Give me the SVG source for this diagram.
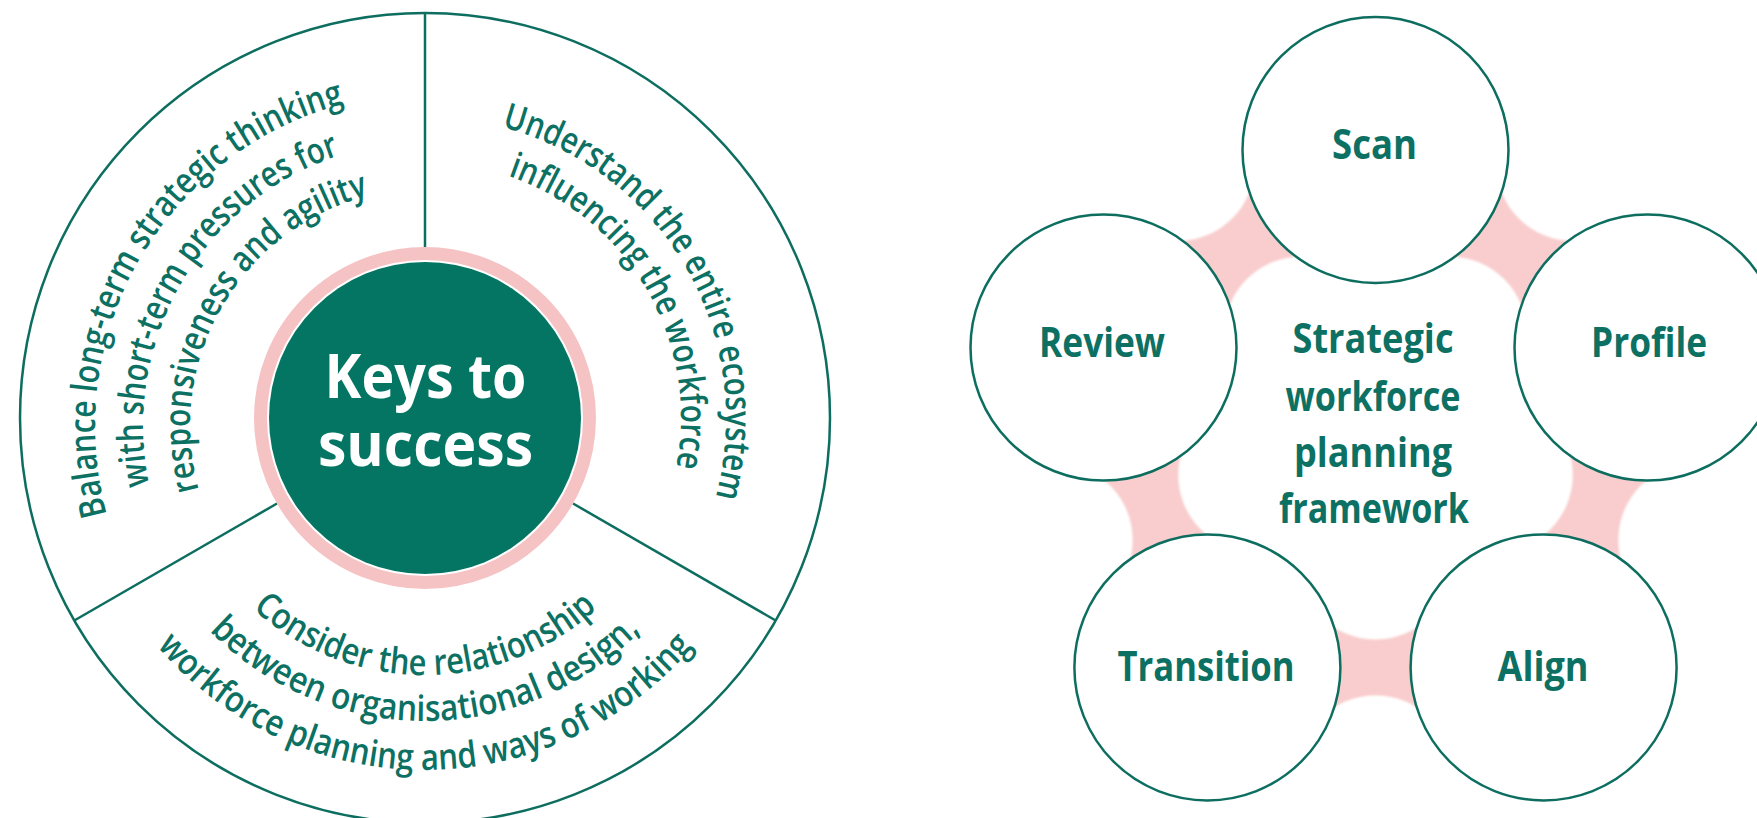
<svg xmlns="http://www.w3.org/2000/svg" width="1757" height="818" viewBox="0 0 1757 818">
  <style>
    .outline { fill: none; stroke: #0d6e60; stroke-width: 2.5; }
    .arc-text { font-family: "Open Sans", "Liberation Sans", sans-serif; font-weight: 600; font-size: 36px; fill: #0c7163; }
    .keys-text { font-family: "Open Sans", "Liberation Sans", sans-serif; font-weight: 700; font-size: 61px; fill: #ffffff; text-anchor: middle; }
    .node-circle { fill: #ffffff; stroke: #0d6e60; stroke-width: 2.5; }
    .label { font-family: "Open Sans", "Liberation Sans", sans-serif; font-weight: 700; font-size: 41px; fill: #0c7163; text-anchor: middle; }
    .bridge { fill: none; stroke: #f9cdcd; stroke-width: 80; stroke-linejoin: round; }
    .carve { fill: #ffffff; }
  </style>
  <defs>
    <!-- baselines for the curved captions (left sector, clockwise) -->
    <path id="arcL1" d="M139.6,592.5 A333,333 0 0 1 428,93"/>
    <path id="arcL2" d="M181.2,568.5 A285,285 0 0 1 428,141"/>
    <path id="arcL3" d="M221.9,545 A238,238 0 0 1 428,188"/>
    <!-- right sector, clockwise -->
    <path id="arcR1" d="M425,117 A301,301 0 0 1 685.7,568.5"/>
    <path id="arcR2" d="M425,162 A256,256 0 0 1 646.7,546"/>
    <!-- bottom sector, counter-clockwise so glyphs face the centre -->
    <path id="arcB1" d="M202.4,546.5 A257,257 0 0 0 647.6,546.5"/>
    <path id="arcB2" d="M162.6,569.5 A303,303 0 0 0 687.4,569.5"/>
    <path id="arcB3" d="M120.2,594 A352,352 0 0 0 729.8,594"/>
    <filter id="soft" x="-5%" y="-5%" width="110%" height="110%">
      <feGaussianBlur stdDeviation="1"/>
    </filter>
  </defs>

  <rect width="1757" height="818" fill="#ffffff"/>

  <!-- ===== Keys to success wheel ===== -->
  <g id="wheel">
    <circle class="outline" cx="425" cy="418" r="405"/>
    <g id="dividers">
      <line class="outline" x1="425" y1="13" x2="425" y2="247"/>
      <line class="outline" x1="74.3" y1="620.5" x2="277" y2="503.5"/>
      <line class="outline" x1="775.7" y1="620.5" x2="573" y2="503.5"/>
    </g>
  </g>

  <g id="keys-hub">
    <circle cx="425" cy="418" r="164.5" fill="none" stroke="#f5c3c4" stroke-width="13"/>
    <circle cx="425" cy="418" r="156" fill="#037562"/>
    <text class="keys-text" x="425.5" y="398" textLength="202" lengthAdjust="spacingAndGlyphs">Keys to</text>
    <text class="keys-text" x="425.5" y="466" textLength="215" lengthAdjust="spacingAndGlyphs">success</text>
  </g>

  <g id="sector-balance">
    <text class="arc-text" text-anchor="middle"><textPath href="#arcL1" startOffset="50%" textLength="528" lengthAdjust="spacingAndGlyphs">Balance long-term strategic thinking</textPath></text>
    <text class="arc-text" text-anchor="middle"><textPath href="#arcL2" startOffset="50%" textLength="417" lengthAdjust="spacingAndGlyphs">with short-term pressures for</textPath></text>
    <text class="arc-text" text-anchor="middle"><textPath href="#arcL3" startOffset="50%" textLength="378" lengthAdjust="spacingAndGlyphs">responsiveness and agility</textPath></text>
  </g>

  <g id="sector-ecosystem">
    <text class="arc-text" text-anchor="middle"><textPath href="#arcR1" startOffset="50%" textLength="475" lengthAdjust="spacingAndGlyphs">Understand the entire ecosystem</textPath></text>
    <text class="arc-text" text-anchor="middle"><textPath href="#arcR2" startOffset="50%" textLength="367" lengthAdjust="spacingAndGlyphs">influencing the workforce</textPath></text>
  </g>

  <g id="sector-relationship">
    <text class="arc-text" text-anchor="middle"><textPath href="#arcB1" startOffset="50%" textLength="378" lengthAdjust="spacingAndGlyphs">Consider the relationship</textPath></text>
    <text class="arc-text" text-anchor="middle"><textPath href="#arcB2" startOffset="50%" textLength="480" lengthAdjust="spacingAndGlyphs">between organisational design,</textPath></text>
    <text class="arc-text" text-anchor="middle"><textPath href="#arcB3" startOffset="50%" textLength="609" lengthAdjust="spacingAndGlyphs">workforce planning and ways of working</textPath></text>
  </g>

  <!-- ===== Strategic workforce planning framework ===== -->
  <g id="connectors" filter="url(#soft)">
    <path class="bridge" d="M1375.5,150 L1647.5,347.6 L1543.6,667.4 L1207.4,667.4 L1103.5,347.6 Z"/>
    <!-- concave waists between neighbouring stages -->
    <circle class="carve" cx="1573.3" cy="163.8" r="77.1"/>
    <circle class="carve" cx="1449.7" cy="333.8" r="77.1"/>
    <circle class="carve" cx="1695.5" cy="540" r="77.1"/>
    <circle class="carve" cx="1495.6" cy="475" r="77.1"/>
    <circle class="carve" cx="1375.5" cy="772.5" r="77.1"/>
    <circle class="carve" cx="1375.5" cy="562.3" r="77.1"/>
    <circle class="carve" cx="1055.5" cy="540" r="77.1"/>
    <circle class="carve" cx="1255.4" cy="475" r="77.1"/>
    <circle class="carve" cx="1177.7" cy="163.8" r="77.1"/>
    <circle class="carve" cx="1301.3" cy="333.8" r="77.1"/>
  </g>

  <g id="framework-title">
    <text class="label" x="1373" y="353" textLength="161" lengthAdjust="spacingAndGlyphs">Strategic</text>
    <text class="label" x="1373" y="410.5" textLength="175" lengthAdjust="spacingAndGlyphs">workforce</text>
    <text class="label" x="1373" y="466.5" textLength="158" lengthAdjust="spacingAndGlyphs">planning</text>
    <text class="label" x="1374" y="522.5" textLength="190" lengthAdjust="spacingAndGlyphs">framework</text>
  </g>

  <g id="stage-scan">
    <circle class="node-circle" cx="1375.5" cy="150" r="133"/>
    <text class="label" x="1374.5" y="159" textLength="85" lengthAdjust="spacingAndGlyphs">Scan</text>
  </g>
  <g id="stage-profile">
    <circle class="node-circle" cx="1647.5" cy="347.6" r="133"/>
    <text class="label" x="1649" y="356.5" textLength="116" lengthAdjust="spacingAndGlyphs">Profile</text>
  </g>
  <g id="stage-align">
    <circle class="node-circle" cx="1543.6" cy="667.4" r="133"/>
    <text class="label" x="1543" y="680.5" textLength="91" lengthAdjust="spacingAndGlyphs">Align</text>
  </g>
  <g id="stage-transition">
    <circle class="node-circle" cx="1207.4" cy="667.4" r="133"/>
    <text class="label" x="1206" y="680.5" textLength="177" lengthAdjust="spacingAndGlyphs">Transition</text>
  </g>
  <g id="stage-review">
    <circle class="node-circle" cx="1103.5" cy="347.6" r="133"/>
    <text class="label" x="1102" y="356.5" textLength="126" lengthAdjust="spacingAndGlyphs">Review</text>
  </g>
</svg>
